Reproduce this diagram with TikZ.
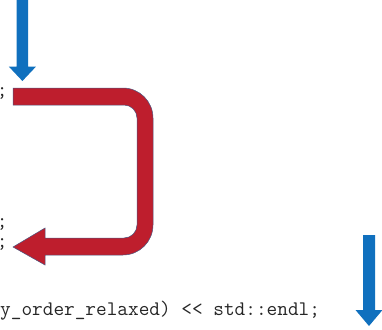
\documentclass[tikz,border=0pt]{standalone}
\tikzset{
  code/.style={font=\ttfamily\fontsize{20.7}{23}\selectfont, inner sep=0pt, text=black!85},
  bluearrow/.style={fill=arrowblue},
  redarrow/.style={fill=arrowred, draw=arrowedge, line width=0.5pt, line join=miter},
}
\definecolor{arrowblue}{HTML}{1070BE}
\definecolor{arrowred}{HTML}{BE1E2D}
\definecolor{arrowedge}{HTML}{4A5680}
\begin{document}
\begin{tikzpicture}[x=1pt,y=-1pt]
  \useasboundingbox (0,0) rectangle (382,329);
  \clip (0,0) rectangle (382,329);

  % clipped ends of the code lines
  \node[code, anchor=base west] (semiA) at (-3.4,96) {;};
  \node[code, anchor=base west] (semiB) at (-3.4,227) {;};
  \node[code, anchor=base west] (semiC) at (-3.4,247) {;};
  \node[code, anchor=base west] (tail) at (0,315) {y\_order\_relaxed) << std::endl;};

  % entry arrow at the top
  \fill[bluearrow] (16.7,-2) -- (28.2,-2) -- (28.2,66.7) -- (35.9,66.7)
    -- (22.4,81) -- (8.9,66.7) -- (16.7,66.7) -- cycle;

  % exit arrow at the bottom right
  \fill[bluearrow] (363,235) -- (375,235) -- (375,310) -- (382.5,310)
    -- (369,326) -- (355.5,310) -- (363,310) -- cycle;

  % loop-back arrow
  \filldraw[redarrow] (13,88) -- (123,88)
    arc[start angle=-90, end angle=0, radius=30] -- (153,225)
    arc[start angle=0, end angle=90, radius=30] -- (45,255)
    -- (45,265) -- (13,247) -- (45,228) -- (45,238) -- (124,238)
    arc[start angle=90, end angle=0, radius=13] -- (137,118)
    arc[start angle=0, end angle=-90, radius=13] -- (13,105) -- cycle;
\end{tikzpicture}
\end{document}
